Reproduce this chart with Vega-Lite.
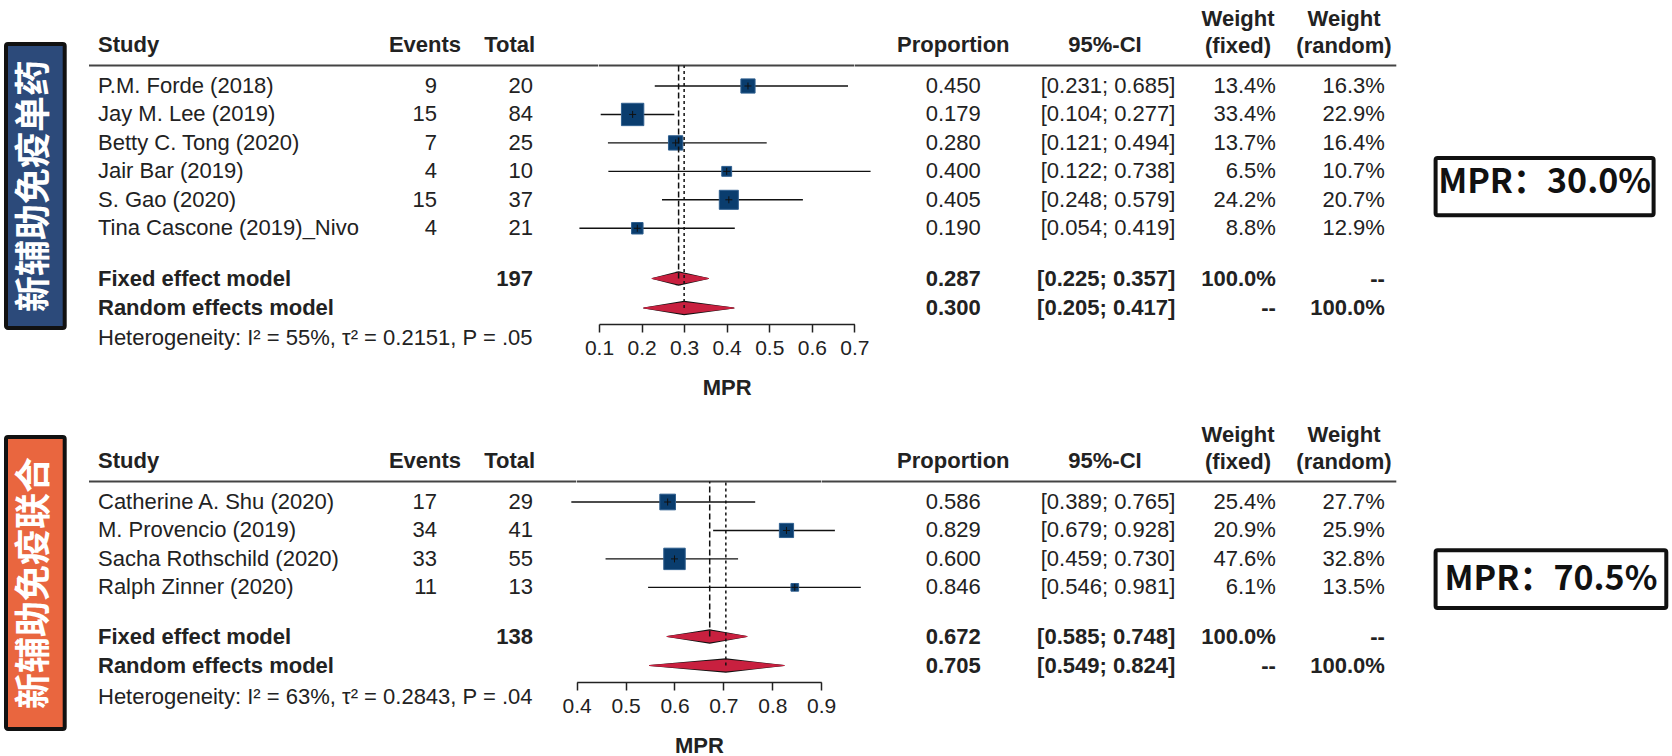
{
"$schema":"https://vega.github.io/schema/vega-lite/v6.json",
"padding":0,"background":"white","bounds":"flush","columns":3,"spacing":{"row":92,"column":0},
"config":{"view":{"stroke":null},"font":"Liberation Sans","text":{"font":"Liberation Sans","fontSize":22,"color":"#222"},
 "axisX":{"orient":"bottom","grid":false,"domainColor":"#222","domainWidth":1.5,"tickColor":"#222","tickWidth":1.5,"tickSize":8,"labelFont":"Liberation Sans","labelFontSize":21,"labelColor":"#222","labelPadding":5.5,"labelFlush":false,"labelOverlap":false,"titleFont":"Liberation Sans","titleFontSize":22,"titleFontWeight":"bold","titleColor":"#222","titlePadding":18.5}},
"datasets":{
"top":[
{"study":"P.M. Forde (2018)","kind":"study","events":9,"total":20,"prop":0.450,"lo":0.231,"hi":0.685,"ci":"[0.231; 0.685]","w":13.4,"wf":"13.4%","wr":"16.3%"},
{"study":"Jay M. Lee (2019)","kind":"study","events":15,"total":84,"prop":0.179,"lo":0.104,"hi":0.277,"ci":"[0.104; 0.277]","w":33.4,"wf":"33.4%","wr":"22.9%"},
{"study":"Betty C. Tong (2020)","kind":"study","events":7,"total":25,"prop":0.280,"lo":0.121,"hi":0.494,"ci":"[0.121; 0.494]","w":13.7,"wf":"13.7%","wr":"16.4%"},
{"study":"Jair Bar (2019)","kind":"study","events":4,"total":10,"prop":0.400,"lo":0.122,"hi":0.738,"ci":"[0.122; 0.738]","w":6.5,"wf":"6.5%","wr":"10.7%"},
{"study":"S. Gao (2020)","kind":"study","events":15,"total":37,"prop":0.405,"lo":0.248,"hi":0.579,"ci":"[0.248; 0.579]","w":24.2,"wf":"24.2%","wr":"20.7%"},
{"study":"Tina Cascone (2019)_Nivo","kind":"study","events":4,"total":21,"prop":0.190,"lo":0.054,"hi":0.419,"ci":"[0.054; 0.419]","w":8.8,"wf":"8.8%","wr":"12.9%"},
{"study":"Fixed effect model","kind":"fixed","total":197,"prop":0.287,"lo":0.225,"hi":0.357,"ci":"[0.225; 0.357]","wf":"100.0%","wr":"--"},
{"study":"Random effects model","kind":"random","prop":0.300,"lo":0.205,"hi":0.417,"ci":"[0.205; 0.417]","wf":"--","wr":"100.0%"}
],
"bottom":[
{"study":"Catherine A. Shu (2020)","kind":"study","events":17,"total":29,"prop":0.586,"lo":0.389,"hi":0.765,"ci":"[0.389; 0.765]","w":25.4,"wf":"25.4%","wr":"27.7%"},
{"study":"M. Provencio (2019)","kind":"study","events":34,"total":41,"prop":0.829,"lo":0.679,"hi":0.928,"ci":"[0.679; 0.928]","w":20.9,"wf":"20.9%","wr":"25.9%"},
{"study":"Sacha Rothschild (2020)","kind":"study","events":33,"total":55,"prop":0.600,"lo":0.459,"hi":0.730,"ci":"[0.459; 0.730]","w":47.6,"wf":"47.6%","wr":"32.8%"},
{"study":"Ralph Zinner (2020)","kind":"study","events":11,"total":13,"prop":0.846,"lo":0.546,"hi":0.981,"ci":"[0.546; 0.981]","w":6.1,"wf":"6.1%","wr":"13.5%"},
{"study":"Fixed effect model","kind":"fixed","total":138,"prop":0.672,"lo":0.585,"hi":0.748,"ci":"[0.585; 0.748]","wf":"100.0%","wr":"--"},
{"study":"Random effects model","kind":"random","prop":0.705,"lo":0.549,"hi":0.824,"ci":"[0.549; 0.824]","wf":"--","wr":"100.0%"}
]
},
"concat":[
{"width":598.3,"height":324,"data":{"name":"top"},"transform":[{"window":[{"op":"row_number","as":"row"}]}],
"layer":[
{"data":{"values":[{"part":"header rule"}]},"mark":{"type":"rule","color":"#444","strokeWidth":2},
 "encoding":{"x":{"datum":89,"type":"quantitative","scale":{"domain":[0,598.3],"zero":false,"nice":false},"axis":null},"x2":{"datum":598.3},"y":{"datum":0.279,"type":"quantitative","scale":{"domain":[-2.023,6,7,8],"range":[0,228.25,278.5,308],"zero":false,"nice":false},"axis":null}}},
{"data":{"values":[{"label":"新辅助免疫单药"}]},"mark":{"type":"rect","fill":"#2C4A7A","stroke":"#111","strokeWidth":4,"cornerRadius":2},
 "encoding":{"x":{"datum":6,"type":"quantitative","scale":{"domain":[0,598.3],"zero":false,"nice":false},"axis":null},"x2":{"datum":64.7},"y":{"datum":-0.476,"type":"quantitative","scale":{"domain":[-2.023,6,7,8],"range":[0,228.25,278.5,308],"zero":false,"nice":false},"axis":null},"y2":{"datum":8.678}}},
{"data":{"values":[{"label":"新辅助免疫单药"}]},"mark":{"type":"text","font":"Noto Sans CJK SC","fontSize":36,"fontWeight":"bold","color":"white","angle":270,"align":"center","baseline":"middle"},
 "encoding":{"x":{"datum":35.4,"type":"quantitative","scale":{"domain":[0,598.3],"zero":false,"nice":false},"axis":null},"y":{"datum":4.515,"type":"quantitative","scale":{"domain":[-2.023,6,7,8],"range":[0,228.25,278.5,308],"zero":false,"nice":false},"axis":null},"text":{"field":"label"}}},
{"data":{"values":[{"h":"Study"}]},"mark":{"type":"text","fontWeight":"bold","align":"left","baseline":"middle"},
 "encoding":{"x":{"datum":98,"type":"quantitative","scale":{"domain":[0,598.3],"zero":false,"nice":false},"axis":null},"y":{"datum":-0.43,"type":"quantitative","scale":{"domain":[-2.023,6,7,8],"range":[0,228.25,278.5,308],"zero":false,"nice":false},"axis":null},"text":{"field":"h"}}},
{"data":{"values":[{"h":"Events"}]},"mark":{"type":"text","fontWeight":"bold","align":"center","baseline":"middle"},
 "encoding":{"x":{"datum":425,"type":"quantitative","scale":{"domain":[0,598.3],"zero":false,"nice":false},"axis":null},"y":{"datum":-0.43,"type":"quantitative","scale":{"domain":[-2.023,6,7,8],"range":[0,228.25,278.5,308],"zero":false,"nice":false},"axis":null},"text":{"field":"h"}}},
{"data":{"values":[{"h":"Total"}]},"mark":{"type":"text","fontWeight":"bold","align":"center","baseline":"middle"},
 "encoding":{"x":{"datum":509.7,"type":"quantitative","scale":{"domain":[0,598.3],"zero":false,"nice":false},"axis":null},"y":{"datum":-0.43,"type":"quantitative","scale":{"domain":[-2.023,6,7,8],"range":[0,228.25,278.5,308],"zero":false,"nice":false},"axis":null},"text":{"field":"h"}}},
{"mark":{"type":"text","align":"left","baseline":"middle","fontWeight":{"expr":"datum.kind == 'study' ? 'normal' : 'bold'"}},
 "encoding":{"x":{"datum":98,"type":"quantitative","scale":{"domain":[0,598.3],"zero":false,"nice":false},"axis":null},"y":{"field":"row","type":"quantitative","scale":{"domain":[-2.023,6,7,8],"range":[0,228.25,278.5,308],"zero":false,"nice":false},"axis":null},"text":{"field":"study"}}},
{"transform":[{"filter":{"field":"events","valid":true}}],"mark":{"type":"text","align":"right","baseline":"middle"},
 "encoding":{"x":{"datum":437,"type":"quantitative","scale":{"domain":[0,598.3],"zero":false,"nice":false},"axis":null},"y":{"field":"row","type":"quantitative","scale":{"domain":[-2.023,6,7,8],"range":[0,228.25,278.5,308],"zero":false,"nice":false},"axis":null},"text":{"field":"events","type":"quantitative"}}},
{"transform":[{"filter":{"field":"total","valid":true}}],"mark":{"type":"text","align":"right","baseline":"middle","fontWeight":{"expr":"datum.kind == 'study' ? 'normal' : 'bold'"}},
 "encoding":{"x":{"datum":533,"type":"quantitative","scale":{"domain":[0,598.3],"zero":false,"nice":false},"axis":null},"y":{"field":"row","type":"quantitative","scale":{"domain":[-2.023,6,7,8],"range":[0,228.25,278.5,308],"zero":false,"nice":false},"axis":null},"text":{"field":"total","type":"quantitative"}}},
{"data":{"values":[{"h":"Heterogeneity: I² = 55%, τ² = 0.2151, P = .05"}]},"mark":{"type":"text","align":"left","baseline":"middle"},
 "encoding":{"x":{"datum":98,"type":"quantitative","scale":{"domain":[0,598.3],"zero":false,"nice":false},"axis":null},"y":{"datum":9,"type":"quantitative","scale":{"domain":[-2.023,6,7,8],"range":[0,228.25,278.5,308],"zero":false,"nice":false},"axis":null},"text":{"field":"h"}}}
]},
{"width":255.4,"height":324,"data":{"name":"top"},"transform":[{"window":[{"op":"row_number","as":"row"}]}],
"resolve":{"scale":{"size":"independent","strokeDash":"independent"}},
"layer":[
{"data":{"values":[{"part":"header rule"}]},"mark":{"type":"rule","color":"#444","strokeWidth":2},
 "encoding":{"x":{"datum":0.1,"type":"quantitative","scale":{"domain":[0.1,0.7],"zero":false,"nice":false},"axis":{"values":[0.1,0.2,0.3,0.4,0.5,0.6,0.7],"format":".1f","title":"MPR"}},"x2":{"datum":0.7},"y":{"datum":0.279,"type":"quantitative","scale":{"domain":[-2.023,6,7,8],"range":[0,228.25,278.5,308],"zero":false,"nice":false},"axis":null}}},
{"transform":[{"filter":"datum.kind == 'study'"}],"mark":{"type":"rule","color":"#111","strokeWidth":1.4},
 "encoding":{"x":{"field":"lo","type":"quantitative","scale":{"domain":[0.1,0.7],"zero":false,"nice":false},"axis":{"values":[0.1,0.2,0.3,0.4,0.5,0.6,0.7],"format":".1f","title":"MPR"}},
  "x2":{"field":"hi"},"y":{"field":"row","type":"quantitative","scale":{"domain":[-2.023,6,7,8],"range":[0,228.25,278.5,308],"zero":false,"nice":false},"axis":null}}},
{"transform":[{"filter":"datum.kind == 'study'"}],"mark":{"type":"point","shape":"square","filled":true,"fill":"#0A3D6E","stroke":"#2F5F8F","strokeWidth":1,"opacity":1},
 "encoding":{"x":{"field":"prop","type":"quantitative","scale":{"domain":[0.1,0.7],"zero":false,"nice":false},"axis":{"values":[0.1,0.2,0.3,0.4,0.5,0.6,0.7],"format":".1f","title":"MPR"}},"y":{"field":"row","type":"quantitative","scale":{"domain":[-2.023,6,7,8],"range":[0,228.25,278.5,308],"zero":false,"nice":false},"axis":null},
  "size":{"field":"w","type":"quantitative","scale":{"domain":[0,33.4],"range":[0,500],"zero":true},"legend":null}}},
{"transform":[{"filter":"datum.kind == 'study'"}],"mark":{"type":"point","shape":"M-1,0L1,0M0,-1L0,1","filled":false,"stroke":"#111","strokeWidth":1,"size":49,"opacity":1},
 "encoding":{"x":{"field":"prop","type":"quantitative","scale":{"domain":[0.1,0.7],"zero":false,"nice":false},"axis":{"values":[0.1,0.2,0.3,0.4,0.5,0.6,0.7],"format":".1f","title":"MPR"}},"y":{"field":"row","type":"quantitative","scale":{"domain":[-2.023,6,7,8],"range":[0,228.25,278.5,308],"zero":false,"nice":false},"axis":null}}},
{"transform":[{"filter":"datum.kind != 'study'"},{"fold":["lo","prop","hi"],"as":["key","value"]},{"window":[{"op":"row_number","as":"vertex"}],"groupby":["kind"]}],"mark":{"type":"trail","color":"#111"},
 "encoding":{"x":{"field":"value","type":"quantitative","scale":{"domain":[0.1,0.7],"zero":false,"nice":false},"axis":{"values":[0.1,0.2,0.3,0.4,0.5,0.6,0.7],"format":".1f","title":"MPR"}},"y":{"field":"row","type":"quantitative","scale":{"domain":[-2.023,6,7,8],"range":[0,228.25,278.5,308],"zero":false,"nice":false},"axis":null},
  "detail":{"field":"kind","type":"nominal"},"size":{"field":"vertex","type":"quantitative","scale":{"type":"linear","domain":[1,2,3],"range":[0,14.5,0],"zero":false,"nice":false},"legend":null}}},
{"transform":[{"filter":"datum.kind != 'study'"},{"fold":["lo","prop","hi"],"as":["key","value"]},{"window":[{"op":"row_number","as":"vertex"}],"groupby":["kind"]}],"mark":{"type":"trail","color":"#C8203F"},
 "encoding":{"x":{"field":"value","type":"quantitative","scale":{"domain":[0.1,0.7],"zero":false,"nice":false},"axis":{"values":[0.1,0.2,0.3,0.4,0.5,0.6,0.7],"format":".1f","title":"MPR"}},"y":{"field":"row","type":"quantitative","scale":{"domain":[-2.023,6,7,8],"range":[0,228.25,278.5,308],"zero":false,"nice":false},"axis":null},
  "detail":{"field":"kind","type":"nominal"},"size":{"field":"vertex","type":"quantitative","scale":{"type":"linear","domain":[1,2,3],"range":[0,12,0],"zero":false,"nice":false},"legend":null}}},
{"transform":[{"filter":"datum.kind != 'study'"}],"mark":{"type":"rule","color":"#111","strokeWidth":1.5},
 "encoding":{"x":{"field":"prop","type":"quantitative","scale":{"domain":[0.1,0.7],"zero":false,"nice":false},"axis":{"values":[0.1,0.2,0.3,0.4,0.5,0.6,0.7],"format":".1f","title":"MPR"}},"y":{"field":"row","type":"quantitative","scale":{"domain":[-2.023,6,7,8],"range":[0,228.25,278.5,308],"zero":false,"nice":false},"axis":null},"y2":{"datum":0.279},
  "strokeDash":{"field":"kind","type":"nominal","scale":{"domain":["fixed","random"],"range":[[6,3],[3,3]]},"legend":null}}}
]},
{"width":818.3,"height":324,"data":{"name":"top"},"transform":[{"window":[{"op":"row_number","as":"row"}]}],
"layer":[
{"data":{"values":[{"part":"header rule"}]},"mark":{"type":"rule","color":"#444","strokeWidth":2},
 "encoding":{"x":{"datum":853.7,"type":"quantitative","scale":{"domain":[853.7,1672],"zero":false,"nice":false},"axis":null},"x2":{"datum":1395},"y":{"datum":0.279,"type":"quantitative","scale":{"domain":[-2.023,6,7,8],"range":[0,228.25,278.5,308],"zero":false,"nice":false},"axis":null}}},
{"data":{"values":[{"h":"Proportion"}]},"mark":{"type":"text","fontWeight":"bold","align":"center","baseline":"middle"},
 "encoding":{"x":{"datum":952,"type":"quantitative","scale":{"domain":[853.7,1672],"zero":false,"nice":false},"axis":null},"y":{"datum":-0.43,"type":"quantitative","scale":{"domain":[-2.023,6,7,8],"range":[0,228.25,278.5,308],"zero":false,"nice":false},"axis":null},"text":{"field":"h"}}},
{"data":{"values":[{"h":"95%-CI"}]},"mark":{"type":"text","fontWeight":"bold","align":"center","baseline":"middle"},
 "encoding":{"x":{"datum":1103.7,"type":"quantitative","scale":{"domain":[853.7,1672],"zero":false,"nice":false},"axis":null},"y":{"datum":-0.43,"type":"quantitative","scale":{"domain":[-2.023,6,7,8],"range":[0,228.25,278.5,308],"zero":false,"nice":false},"axis":null},"text":{"field":"h"}}},
{"data":{"values":[{"h":"Weight\n(fixed)"}]},"mark":{"type":"text","fontWeight":"bold","align":"center","baseline":"alphabetic","lineBreak":"\n","lineHeight":27},
 "encoding":{"x":{"datum":1236.7,"type":"quantitative","scale":{"domain":[853.7,1672],"zero":false,"nice":false},"axis":null},"y":{"datum":-1.099,"type":"quantitative","scale":{"domain":[-2.023,6,7,8],"range":[0,228.25,278.5,308],"zero":false,"nice":false},"axis":null},"text":{"field":"h"}}},
{"data":{"values":[{"h":"Weight\n(random)"}]},"mark":{"type":"text","fontWeight":"bold","align":"center","baseline":"alphabetic","lineBreak":"\n","lineHeight":27},
 "encoding":{"x":{"datum":1342.7,"type":"quantitative","scale":{"domain":[853.7,1672],"zero":false,"nice":false},"axis":null},"y":{"datum":-1.099,"type":"quantitative","scale":{"domain":[-2.023,6,7,8],"range":[0,228.25,278.5,308],"zero":false,"nice":false},"axis":null},"text":{"field":"h"}}},
{"mark":{"type":"text","align":"right","baseline":"middle","fontWeight":{"expr":"datum.kind == 'study' ? 'normal' : 'bold'"}},
 "encoding":{"x":{"datum":979.5,"type":"quantitative","scale":{"domain":[853.7,1672],"zero":false,"nice":false},"axis":null},"y":{"field":"row","type":"quantitative","scale":{"domain":[-2.023,6,7,8],"range":[0,228.25,278.5,308],"zero":false,"nice":false},"axis":null},"text":{"field":"prop","type":"quantitative","format":".3f"}}},
{"mark":{"type":"text","align":"right","baseline":"middle","fontWeight":{"expr":"datum.kind == 'study' ? 'normal' : 'bold'"}},
 "encoding":{"x":{"datum":1174,"type":"quantitative","scale":{"domain":[853.7,1672],"zero":false,"nice":false},"axis":null},"y":{"field":"row","type":"quantitative","scale":{"domain":[-2.023,6,7,8],"range":[0,228.25,278.5,308],"zero":false,"nice":false},"axis":null},"text":{"field":"ci"}}},
{"mark":{"type":"text","align":"right","baseline":"middle","fontWeight":{"expr":"datum.kind == 'study' ? 'normal' : 'bold'"}},
 "encoding":{"x":{"datum":1274.5,"type":"quantitative","scale":{"domain":[853.7,1672],"zero":false,"nice":false},"axis":null},"y":{"field":"row","type":"quantitative","scale":{"domain":[-2.023,6,7,8],"range":[0,228.25,278.5,308],"zero":false,"nice":false},"axis":null},"text":{"field":"wf"}}},
{"mark":{"type":"text","align":"right","baseline":"middle","fontWeight":{"expr":"datum.kind == 'study' ? 'normal' : 'bold'"}},
 "encoding":{"x":{"datum":1383.5,"type":"quantitative","scale":{"domain":[853.7,1672],"zero":false,"nice":false},"axis":null},"y":{"field":"row","type":"quantitative","scale":{"domain":[-2.023,6,7,8],"range":[0,228.25,278.5,308],"zero":false,"nice":false},"axis":null},"text":{"field":"wr"}}},
{"data":{"values":[{"label":"MPR：30.0%"}]},"mark":{"type":"rect","fill":"white","stroke":"#111","strokeWidth":4,"cornerRadius":2},
 "encoding":{"x":{"datum":1434.3,"type":"quantitative","scale":{"domain":[853.7,1672],"zero":false,"nice":false},"axis":null},"x2":{"datum":1652.3},"y":{"datum":3.531,"type":"quantitative","scale":{"domain":[-2.023,6,7,8],"range":[0,228.25,278.5,308],"zero":false,"nice":false},"axis":null},"y2":{"datum":5.545}}},
{"data":{"values":[{"label":"MPR：30.0%"}]},"mark":{"type":"text","font":"Noto Sans CJK SC","fontSize":34,"fontWeight":"bold","color":"#111","align":"center","baseline":"middle"},
 "encoding":{"x":{"datum":1543.3,"type":"quantitative","scale":{"domain":[853.7,1672],"zero":false,"nice":false},"axis":null},"y":{"datum":4.409,"type":"quantitative","scale":{"domain":[-2.023,6,7,8],"range":[0,228.25,278.5,308],"zero":false,"nice":false},"axis":null},"text":{"field":"label"}}}
]},
{"width":598.3,"height":266,"data":{"name":"bottom"},"transform":[{"window":[{"op":"row_number","as":"row"}]}],
"layer":[
{"data":{"values":[{"part":"header rule"}]},"mark":{"type":"rule","color":"#444","strokeWidth":2},
 "encoding":{"x":{"datum":89,"type":"quantitative","scale":{"domain":[0,598.3],"zero":false,"nice":false},"axis":null},"x2":{"datum":576},"y":{"datum":0.279,"type":"quantitative","scale":{"domain":[-2.023,4,5,6],"range":[0,171.35,220.5,249.5],"zero":false,"nice":false},"axis":null}}},
{"data":{"values":[{"label":"新辅助免疫联合"}]},"mark":{"type":"rect","fill":"#E9663F","stroke":"#111","strokeWidth":4,"cornerRadius":2},
 "encoding":{"x":{"datum":6,"type":"quantitative","scale":{"domain":[0,598.3],"zero":false,"nice":false},"axis":null},"x2":{"datum":64.7},"y":{"datum":-1.285,"type":"quantitative","scale":{"domain":[-2.023,4,5,6],"range":[0,171.35,220.5,249.5],"zero":false,"nice":false},"axis":null},"y2":{"datum":8.19}}},
{"data":{"values":[{"label":"新辅助免疫联合"}]},"mark":{"type":"text","font":"Noto Sans CJK SC","fontSize":36,"fontWeight":"bold","color":"white","angle":270,"align":"center","baseline":"middle"},
 "encoding":{"x":{"datum":35.4,"type":"quantitative","scale":{"domain":[0,598.3],"zero":false,"nice":false},"axis":null},"y":{"datum":3.847,"type":"quantitative","scale":{"domain":[-2.023,4,5,6],"range":[0,171.35,220.5,249.5],"zero":false,"nice":false},"axis":null},"text":{"field":"label"}}},
{"data":{"values":[{"h":"Study"}]},"mark":{"type":"text","fontWeight":"bold","align":"left","baseline":"middle"},
 "encoding":{"x":{"datum":98,"type":"quantitative","scale":{"domain":[0,598.3],"zero":false,"nice":false},"axis":null},"y":{"datum":-0.43,"type":"quantitative","scale":{"domain":[-2.023,4,5,6],"range":[0,171.35,220.5,249.5],"zero":false,"nice":false},"axis":null},"text":{"field":"h"}}},
{"data":{"values":[{"h":"Events"}]},"mark":{"type":"text","fontWeight":"bold","align":"center","baseline":"middle"},
 "encoding":{"x":{"datum":425,"type":"quantitative","scale":{"domain":[0,598.3],"zero":false,"nice":false},"axis":null},"y":{"datum":-0.43,"type":"quantitative","scale":{"domain":[-2.023,4,5,6],"range":[0,171.35,220.5,249.5],"zero":false,"nice":false},"axis":null},"text":{"field":"h"}}},
{"data":{"values":[{"h":"Total"}]},"mark":{"type":"text","fontWeight":"bold","align":"center","baseline":"middle"},
 "encoding":{"x":{"datum":509.7,"type":"quantitative","scale":{"domain":[0,598.3],"zero":false,"nice":false},"axis":null},"y":{"datum":-0.43,"type":"quantitative","scale":{"domain":[-2.023,4,5,6],"range":[0,171.35,220.5,249.5],"zero":false,"nice":false},"axis":null},"text":{"field":"h"}}},
{"mark":{"type":"text","align":"left","baseline":"middle","fontWeight":{"expr":"datum.kind == 'study' ? 'normal' : 'bold'"}},
 "encoding":{"x":{"datum":98,"type":"quantitative","scale":{"domain":[0,598.3],"zero":false,"nice":false},"axis":null},"y":{"field":"row","type":"quantitative","scale":{"domain":[-2.023,4,5,6],"range":[0,171.35,220.5,249.5],"zero":false,"nice":false},"axis":null},"text":{"field":"study"}}},
{"transform":[{"filter":{"field":"events","valid":true}}],"mark":{"type":"text","align":"right","baseline":"middle"},
 "encoding":{"x":{"datum":437,"type":"quantitative","scale":{"domain":[0,598.3],"zero":false,"nice":false},"axis":null},"y":{"field":"row","type":"quantitative","scale":{"domain":[-2.023,4,5,6],"range":[0,171.35,220.5,249.5],"zero":false,"nice":false},"axis":null},"text":{"field":"events","type":"quantitative"}}},
{"transform":[{"filter":{"field":"total","valid":true}}],"mark":{"type":"text","align":"right","baseline":"middle","fontWeight":{"expr":"datum.kind == 'study' ? 'normal' : 'bold'"}},
 "encoding":{"x":{"datum":533,"type":"quantitative","scale":{"domain":[0,598.3],"zero":false,"nice":false},"axis":null},"y":{"field":"row","type":"quantitative","scale":{"domain":[-2.023,4,5,6],"range":[0,171.35,220.5,249.5],"zero":false,"nice":false},"axis":null},"text":{"field":"total","type":"quantitative"}}},
{"data":{"values":[{"h":"Heterogeneity: I² = 63%, τ² = 0.2843, P = .04"}]},"mark":{"type":"text","align":"left","baseline":"middle"},
 "encoding":{"x":{"datum":98,"type":"quantitative","scale":{"domain":[0,598.3],"zero":false,"nice":false},"axis":null},"y":{"datum":7.1,"type":"quantitative","scale":{"domain":[-2.023,4,5,6],"range":[0,171.35,220.5,249.5],"zero":false,"nice":false},"axis":null},"text":{"field":"h"}}}
]},
{"width":255.4,"height":266,"data":{"name":"bottom"},"transform":[{"window":[{"op":"row_number","as":"row"}]}],
"resolve":{"scale":{"size":"independent","strokeDash":"independent"}},
"layer":[
{"data":{"values":[{"part":"header rule"}]},"mark":{"type":"rule","color":"#444","strokeWidth":2},
 "encoding":{"x":{"datum":0.4,"type":"quantitative","scale":{"domain":[0.4,0.9],"range":[-22.3,222.2],"zero":false,"nice":false},"axis":{"values":[0.4,0.5,0.6,0.7,0.8,0.9],"format":".1f","title":"MPR"}},"x2":{"datum":0.9},"y":{"datum":0.279,"type":"quantitative","scale":{"domain":[-2.023,4,5,6],"range":[0,171.35,220.5,249.5],"zero":false,"nice":false},"axis":null}}},
{"transform":[{"filter":"datum.kind == 'study'"}],"mark":{"type":"rule","color":"#111","strokeWidth":1.4},
 "encoding":{"x":{"field":"lo","type":"quantitative","scale":{"domain":[0.4,0.9],"range":[-22.3,222.2],"zero":false,"nice":false},"axis":{"values":[0.4,0.5,0.6,0.7,0.8,0.9],"format":".1f","title":"MPR"}},
  "x2":{"field":"hi"},"y":{"field":"row","type":"quantitative","scale":{"domain":[-2.023,4,5,6],"range":[0,171.35,220.5,249.5],"zero":false,"nice":false},"axis":null}}},
{"transform":[{"filter":"datum.kind == 'study'"}],"mark":{"type":"point","shape":"square","filled":true,"fill":"#0A3D6E","stroke":"#2F5F8F","strokeWidth":1,"opacity":1},
 "encoding":{"x":{"field":"prop","type":"quantitative","scale":{"domain":[0.4,0.9],"range":[-22.3,222.2],"zero":false,"nice":false},"axis":{"values":[0.4,0.5,0.6,0.7,0.8,0.9],"format":".1f","title":"MPR"}},"y":{"field":"row","type":"quantitative","scale":{"domain":[-2.023,4,5,6],"range":[0,171.35,220.5,249.5],"zero":false,"nice":false},"axis":null},
  "size":{"field":"w","type":"quantitative","scale":{"domain":[0,47.6],"range":[0,460],"zero":true},"legend":null}}},
{"transform":[{"filter":"datum.kind == 'study'"}],"mark":{"type":"point","shape":"M-1,0L1,0M0,-1L0,1","filled":false,"stroke":"#111","strokeWidth":1,"size":49,"opacity":1},
 "encoding":{"x":{"field":"prop","type":"quantitative","scale":{"domain":[0.4,0.9],"range":[-22.3,222.2],"zero":false,"nice":false},"axis":{"values":[0.4,0.5,0.6,0.7,0.8,0.9],"format":".1f","title":"MPR"}},"y":{"field":"row","type":"quantitative","scale":{"domain":[-2.023,4,5,6],"range":[0,171.35,220.5,249.5],"zero":false,"nice":false},"axis":null}}},
{"transform":[{"filter":"datum.kind != 'study'"},{"fold":["lo","prop","hi"],"as":["key","value"]},{"window":[{"op":"row_number","as":"vertex"}],"groupby":["kind"]}],"mark":{"type":"trail","color":"#111"},
 "encoding":{"x":{"field":"value","type":"quantitative","scale":{"domain":[0.4,0.9],"range":[-22.3,222.2],"zero":false,"nice":false},"axis":{"values":[0.4,0.5,0.6,0.7,0.8,0.9],"format":".1f","title":"MPR"}},"y":{"field":"row","type":"quantitative","scale":{"domain":[-2.023,4,5,6],"range":[0,171.35,220.5,249.5],"zero":false,"nice":false},"axis":null},
  "detail":{"field":"kind","type":"nominal"},"size":{"field":"vertex","type":"quantitative","scale":{"type":"linear","domain":[1,2,3],"range":[0,14.5,0],"zero":false,"nice":false},"legend":null}}},
{"transform":[{"filter":"datum.kind != 'study'"},{"fold":["lo","prop","hi"],"as":["key","value"]},{"window":[{"op":"row_number","as":"vertex"}],"groupby":["kind"]}],"mark":{"type":"trail","color":"#C8203F"},
 "encoding":{"x":{"field":"value","type":"quantitative","scale":{"domain":[0.4,0.9],"range":[-22.3,222.2],"zero":false,"nice":false},"axis":{"values":[0.4,0.5,0.6,0.7,0.8,0.9],"format":".1f","title":"MPR"}},"y":{"field":"row","type":"quantitative","scale":{"domain":[-2.023,4,5,6],"range":[0,171.35,220.5,249.5],"zero":false,"nice":false},"axis":null},
  "detail":{"field":"kind","type":"nominal"},"size":{"field":"vertex","type":"quantitative","scale":{"type":"linear","domain":[1,2,3],"range":[0,12,0],"zero":false,"nice":false},"legend":null}}},
{"transform":[{"filter":"datum.kind != 'study'"}],"mark":{"type":"rule","color":"#111","strokeWidth":1.5},
 "encoding":{"x":{"field":"prop","type":"quantitative","scale":{"domain":[0.4,0.9],"range":[-22.3,222.2],"zero":false,"nice":false},"axis":{"values":[0.4,0.5,0.6,0.7,0.8,0.9],"format":".1f","title":"MPR"}},"y":{"field":"row","type":"quantitative","scale":{"domain":[-2.023,4,5,6],"range":[0,171.35,220.5,249.5],"zero":false,"nice":false},"axis":null},"y2":{"datum":0.279},
  "strokeDash":{"field":"kind","type":"nominal","scale":{"domain":["fixed","random"],"range":[[6,3],[3,3]]},"legend":null}}}
]},
{"width":818.3,"height":266,"data":{"name":"bottom"},"transform":[{"window":[{"op":"row_number","as":"row"}]}],
"layer":[
{"data":{"values":[{"part":"header rule"}]},"mark":{"type":"rule","color":"#444","strokeWidth":2},
 "encoding":{"x":{"datum":820.5,"type":"quantitative","scale":{"domain":[853.7,1672],"zero":false,"nice":false},"axis":null},"x2":{"datum":1395},"y":{"datum":0.279,"type":"quantitative","scale":{"domain":[-2.023,4,5,6],"range":[0,171.35,220.5,249.5],"zero":false,"nice":false},"axis":null}}},
{"data":{"values":[{"h":"Proportion"}]},"mark":{"type":"text","fontWeight":"bold","align":"center","baseline":"middle"},
 "encoding":{"x":{"datum":952,"type":"quantitative","scale":{"domain":[853.7,1672],"zero":false,"nice":false},"axis":null},"y":{"datum":-0.43,"type":"quantitative","scale":{"domain":[-2.023,4,5,6],"range":[0,171.35,220.5,249.5],"zero":false,"nice":false},"axis":null},"text":{"field":"h"}}},
{"data":{"values":[{"h":"95%-CI"}]},"mark":{"type":"text","fontWeight":"bold","align":"center","baseline":"middle"},
 "encoding":{"x":{"datum":1103.7,"type":"quantitative","scale":{"domain":[853.7,1672],"zero":false,"nice":false},"axis":null},"y":{"datum":-0.43,"type":"quantitative","scale":{"domain":[-2.023,4,5,6],"range":[0,171.35,220.5,249.5],"zero":false,"nice":false},"axis":null},"text":{"field":"h"}}},
{"data":{"values":[{"h":"Weight\n(fixed)"}]},"mark":{"type":"text","fontWeight":"bold","align":"center","baseline":"alphabetic","lineBreak":"\n","lineHeight":27},
 "encoding":{"x":{"datum":1236.7,"type":"quantitative","scale":{"domain":[853.7,1672],"zero":false,"nice":false},"axis":null},"y":{"datum":-1.099,"type":"quantitative","scale":{"domain":[-2.023,4,5,6],"range":[0,171.35,220.5,249.5],"zero":false,"nice":false},"axis":null},"text":{"field":"h"}}},
{"data":{"values":[{"h":"Weight\n(random)"}]},"mark":{"type":"text","fontWeight":"bold","align":"center","baseline":"alphabetic","lineBreak":"\n","lineHeight":27},
 "encoding":{"x":{"datum":1342.7,"type":"quantitative","scale":{"domain":[853.7,1672],"zero":false,"nice":false},"axis":null},"y":{"datum":-1.099,"type":"quantitative","scale":{"domain":[-2.023,4,5,6],"range":[0,171.35,220.5,249.5],"zero":false,"nice":false},"axis":null},"text":{"field":"h"}}},
{"mark":{"type":"text","align":"right","baseline":"middle","fontWeight":{"expr":"datum.kind == 'study' ? 'normal' : 'bold'"}},
 "encoding":{"x":{"datum":979.5,"type":"quantitative","scale":{"domain":[853.7,1672],"zero":false,"nice":false},"axis":null},"y":{"field":"row","type":"quantitative","scale":{"domain":[-2.023,4,5,6],"range":[0,171.35,220.5,249.5],"zero":false,"nice":false},"axis":null},"text":{"field":"prop","type":"quantitative","format":".3f"}}},
{"mark":{"type":"text","align":"right","baseline":"middle","fontWeight":{"expr":"datum.kind == 'study' ? 'normal' : 'bold'"}},
 "encoding":{"x":{"datum":1174,"type":"quantitative","scale":{"domain":[853.7,1672],"zero":false,"nice":false},"axis":null},"y":{"field":"row","type":"quantitative","scale":{"domain":[-2.023,4,5,6],"range":[0,171.35,220.5,249.5],"zero":false,"nice":false},"axis":null},"text":{"field":"ci"}}},
{"mark":{"type":"text","align":"right","baseline":"middle","fontWeight":{"expr":"datum.kind == 'study' ? 'normal' : 'bold'"}},
 "encoding":{"x":{"datum":1274.5,"type":"quantitative","scale":{"domain":[853.7,1672],"zero":false,"nice":false},"axis":null},"y":{"field":"row","type":"quantitative","scale":{"domain":[-2.023,4,5,6],"range":[0,171.35,220.5,249.5],"zero":false,"nice":false},"axis":null},"text":{"field":"wf"}}},
{"mark":{"type":"text","align":"right","baseline":"middle","fontWeight":{"expr":"datum.kind == 'study' ? 'normal' : 'bold'"}},
 "encoding":{"x":{"datum":1383.5,"type":"quantitative","scale":{"domain":[853.7,1672],"zero":false,"nice":false},"axis":null},"y":{"field":"row","type":"quantitative","scale":{"domain":[-2.023,4,5,6],"range":[0,171.35,220.5,249.5],"zero":false,"nice":false},"axis":null},"text":{"field":"wr"}}},
{"data":{"values":[{"label":"MPR：70.5%"}]},"mark":{"type":"rect","fill":"white","stroke":"#111","strokeWidth":4,"cornerRadius":2},
 "encoding":{"x":{"datum":1434.3,"type":"quantitative","scale":{"domain":[853.7,1672],"zero":false,"nice":false},"axis":null},"x2":{"datum":1665},"y":{"datum":2.698,"type":"quantitative","scale":{"domain":[-2.023,4,5,6],"range":[0,171.35,220.5,249.5],"zero":false,"nice":false},"axis":null},"y2":{"datum":4.42}}},
{"data":{"values":[{"label":"MPR：70.5%"}]},"mark":{"type":"text","font":"Noto Sans CJK SC","fontSize":34,"fontWeight":"bold","color":"#111","align":"center","baseline":"middle"},
 "encoding":{"x":{"datum":1549.7,"type":"quantitative","scale":{"domain":[853.7,1672],"zero":false,"nice":false},"axis":null},"y":{"datum":3.742,"type":"quantitative","scale":{"domain":[-2.023,4,5,6],"range":[0,171.35,220.5,249.5],"zero":false,"nice":false},"axis":null},"text":{"field":"label"}}}
]}
]
}
